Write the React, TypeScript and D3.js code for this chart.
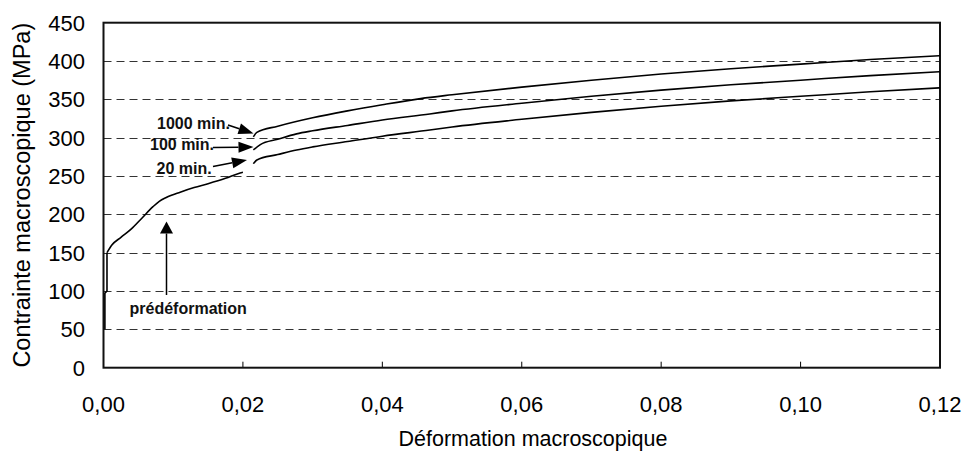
import React from 'react';
import * as d3 from 'd3';

type Pt = [number, number];

// strain (-), stress (MPa)
const PRESTRAIN_ELASTIC: Pt[] = [
  [0.0002, 50], [0.0002, 97], [0.0005, 100], [0.0005, 150],
];
const PRESTRAIN: Pt[] = [
  [0.0005, 150], [0.0012, 160], [0.0025, 170], [0.004, 181], [0.0055, 195],
  [0.0071, 210], [0.008, 217], [0.009, 222], [0.011, 229], [0.013, 235],
  [0.015, 240], [0.0175, 247], [0.0196, 254], [0.02, 255],
];
const CURVE_1000: Pt[] = [
  [0.0215, 301], [0.022, 307], [0.025, 315], [0.03, 326], [0.035, 335],
  [0.04, 343], [0.0455, 351], [0.05, 356], [0.06, 366], [0.07, 375],
  [0.08, 383], [0.09, 390], [0.1, 396], [0.11, 402], [0.12, 407],
];
const CURVE_100: Pt[] = [
  [0.0215, 284], [0.0225, 291], [0.025, 298], [0.0277, 305], [0.03, 309],
  [0.035, 316], [0.04, 323], [0.0468, 331], [0.05, 335], [0.06, 345],
  [0.07, 354], [0.08, 362], [0.09, 369], [0.1, 375], [0.11, 381], [0.12, 386],
];
const CURVE_20: Pt[] = [
  [0.0215, 266], [0.022, 271], [0.025, 278], [0.0277, 284], [0.03, 288],
  [0.035, 295], [0.04, 302], [0.0468, 310], [0.05, 314], [0.06, 324],
  [0.07, 333], [0.08, 341], [0.09, 348], [0.1, 354], [0.11, 360], [0.12, 365],
];

const X_TICKS = [0, 0.02, 0.04, 0.06, 0.08, 0.1, 0.12];
const Y_TICKS = [0, 50, 100, 150, 200, 250, 300, 350, 400, 450];

const W = 966;
const H = 456;
const FONT = "'Liberation Sans', Arial, sans-serif";

export default function App() {
  const svgRef = React.useRef<SVGSVGElement>(null);

  React.useEffect(() => {
    const svg = d3.select(svgRef.current);
    svg.selectAll('*').remove();

    const left = 103.5, right = 940, top = 22.7, bottom = 367.7;
    const x = d3.scaleLinear().domain([0, 0.12]).range([left, right]);
    const y = d3.scaleLinear().domain([0, 450]).range([bottom, top]);

    // dashed grid
    for (const v of Y_TICKS) {
      if (v === 0 || v === 450) continue;
      svg.append('line')
        .attr('x1', left).attr('x2', right)
        .attr('y1', Math.round(y(v)) + 0.5).attr('y2', Math.round(y(v)) + 0.5)
        .attr('stroke', '#333')
        .attr('stroke-width', 1)
        .attr('stroke-dasharray', '8 5');
    }

    // x ticks (inside)
    for (const v of X_TICKS) {
      svg.append('line')
        .attr('x1', x(v)).attr('x2', x(v))
        .attr('y1', bottom).attr('y2', bottom - 6)
        .attr('stroke', '#000').attr('stroke-width', 1);
      svg.append('text')
        .attr('x', x(v))
        .attr('y', 411.5)
        .attr('text-anchor', 'middle')
        .attr('font-family', FONT)
        .attr('font-size', 22)
        .text(d3.format('.2f')(v).replace('.', ','));
    }

    for (const v of Y_TICKS) {
      svg.append('text')
        .attr('x', 85)
        .attr('y', y(v))
        .attr('dy', '0.36em')
        .attr('text-anchor', 'end')
        .attr('font-family', FONT)
        .attr('font-size', 22)
        .text(String(v));
    }

    // frame
    svg.append('rect')
      .attr('x', left).attr('y', top)
      .attr('width', right - left).attr('height', bottom - top)
      .attr('fill', 'none')
      .attr('stroke', '#111')
      .attr('stroke-width', 2);

    const smooth = d3.line<Pt>().x(d => x(d[0])).y(d => y(d[1])).curve(d3.curveMonotoneX);
    const straight = d3.line<Pt>().x(d => x(d[0])).y(d => y(d[1]));
    for (const [data, gen] of [
      [PRESTRAIN_ELASTIC, straight], [PRESTRAIN, smooth],
      [CURVE_1000, smooth], [CURVE_100, smooth], [CURVE_20, smooth],
    ] as [Pt[], d3.Line<Pt>][]) {
      svg.append('path')
        .attr('d', gen(data))
        .attr('fill', 'none')
        .attr('stroke', '#000')
        .attr('stroke-width', 1.6);
    }

    // annotations
    const ann = (tx: number, ty: number, label: string) =>
      svg.append('text')
        .attr('x', tx).attr('y', ty)
        .attr('font-family', FONT)
        .attr('font-weight', 700)
        .attr('font-size', 16)
        .attr('fill', '#111')
        .text(label);
    ann(157, 128.5, '1000 min.');
    ann(150, 150, '100 min.');
    ann(156.5, 173.5, '20 min.');
    ann(129.5, 313.5, 'prédéformation');

    const arrow = (x1: number, y1: number, x2: number, y2: number, len = 15, wid = 11) => {
      const a = Math.atan2(y2 - y1, x2 - x1);
      const bx = x2 - Math.cos(a) * len;
      const by = y2 - Math.sin(a) * len;
      svg.append('line')
        .attr('x1', x1).attr('y1', y1).attr('x2', bx).attr('y2', by)
        .attr('stroke', '#000').attr('stroke-width', 1.5);
      const px = -Math.sin(a) * wid / 2;
      const py = Math.cos(a) * wid / 2;
      svg.append('path')
        .attr('d', `M${x2},${y2}L${bx + px},${by + py}L${bx - px},${by - py}Z`)
        .attr('fill', '#000');
    };
    arrow(228, 125, 253.5, 133.5);
    arrow(213, 147.5, 253.5, 147);
    arrow(213, 166.5, 247, 160);
    arrow(166.5, 295, 166.5, 221.5, 12, 13);

    // axis titles
    svg.append('text')
      .attr('x', 533)
      .attr('y', 446)
      .attr('text-anchor', 'middle')
      .attr('font-family', FONT)
      .attr('font-size', 21.5)
      .text('Déformation macroscopique');

    svg.append('text')
      .attr('transform', `translate(30, ${(top + bottom) / 2}) rotate(-90)`)
      .attr('text-anchor', 'middle')
      .attr('font-family', FONT)
      .attr('font-size', 23.5)
      .text('Contrainte macroscopique (MPa)');
  }, []);

  return (
    <svg
      ref={svgRef}
      width={W}
      height={H}
      style={{ position: 'absolute', left: 0, top: 0, background: '#fff' }}
    />
  );
}
